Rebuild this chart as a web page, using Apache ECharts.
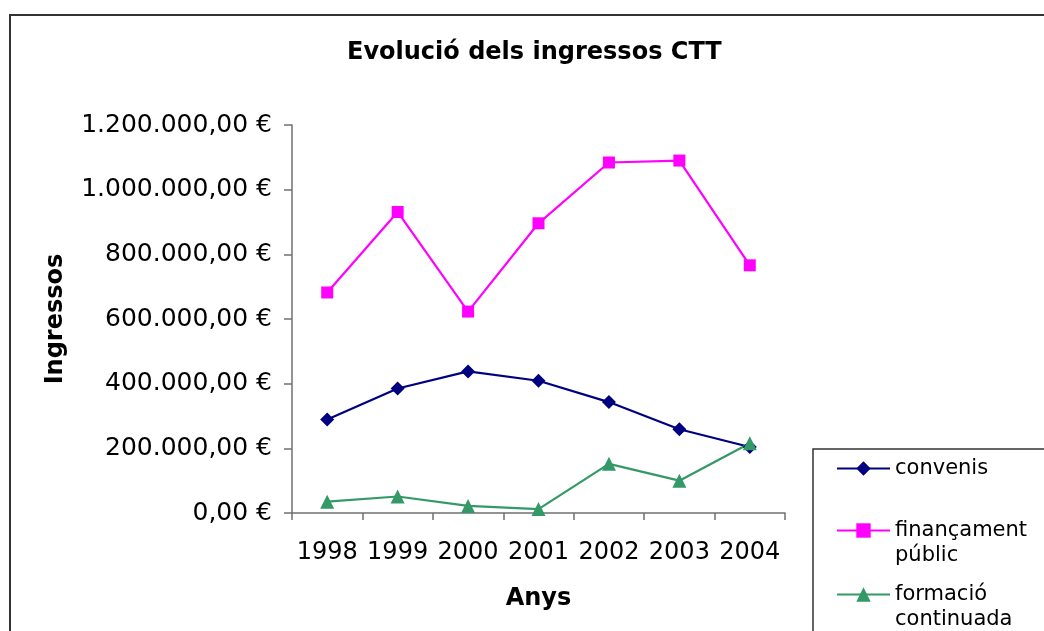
<!DOCTYPE html>
<html>
<head>
<meta charset="utf-8">
<script src="https://cdn.jsdelivr.net/npm/echarts@6/dist/echarts.min.js"></script>
<style>
  html, body { margin: 0; padding: 0; background: #fff; }
  #main { width: 1044px; height: 631px; }
</style>
</head>
<body>
<div id="main"></div>
<script>
var years = ['1998', '1999', '2000', '2001', '2002', '2003', '2004'];
var convenis = [289000, 385000, 438000, 409000, 343000, 259000, 204000];
var financament = [682000, 931000, 623000, 896000, 1084000, 1090000, 766000];
var formacio = [35000, 51000, 22000, 12000, 152000, 100000, 216000];

var FONT = '"DejaVu Sans", Verdana, sans-serif';

function euro(v) {
    var s = Math.round(v).toString().replace(/\B(?=(\d{3})+(?!\d))/g, '.');
    return s + ',00 €';
}

// one legend per series so each can sit where the reference puts it;
// two-line names get a blank first line so the symbol lines up with the first word
function legendFor(name, top, twoLines) {
    return {
        data: [name],
        orient: 'vertical',
        left: 831,
        top: top,
        itemWidth: 53,
        itemHeight: 18,
        formatter: function (n) { return twoLines ? '\n' + n.replace(' ', '\n') : n; },
        textStyle: {
            fontFamily: FONT,
            fontSize: 21,
            color: '#000',
            lineHeight: 25
        }
    };
}

var chartDom = document.getElementById('main');
var myChart = echarts.init(chartDom);
var option;
option = {
    animation: false,
    backgroundColor: '#fff',
    title: {
        text: 'Evolució dels ingressos CTT',
        left: 342,
        top: 36,
        textStyle: { fontFamily: FONT, fontSize: 24, fontWeight: 'bold', color: '#000' }
    },
    legend: [
        legendFor('convenis', 451, false),
        legendFor('finançament públic', 488, true),
        legendFor('formació continuada', 552, true)
    ],
    graphic: [
        {
            type: 'rect',
            shape: { x: 10, y: 15, width: 1100, height: 700 },
            style: { fill: null, stroke: '#333', lineWidth: 2 },
            silent: true
        },
        {
            type: 'rect',
            shape: { x: 813, y: 449, width: 300, height: 300 },
            style: { fill: '#fff', stroke: '#333', lineWidth: 1.5 },
            silent: true,
            z: -1
        }
    ],
    grid: {
        left: 292,
        right: 259,
        top: 125,
        bottom: 118
    },
    xAxis: {
        type: 'category',
        data: years,
        boundaryGap: true,
        name: 'Anys',
        nameLocation: 'middle',
        nameGap: 74,
        nameTextStyle: { fontFamily: FONT, fontSize: 24, fontWeight: 'bold', color: '#000' },
        axisLine: { lineStyle: { color: '#707070', width: 1.5 } },
        axisTick: { show: true, length: 7, alignWithLabel: false, lineStyle: { color: '#707070', width: 1.5 } },
        axisLabel: { fontFamily: FONT, fontSize: 24, color: '#000', margin: 28, interval: 0 },
        splitLine: { show: false }
    },
    yAxis: {
        type: 'value',
        min: 0,
        max: 1200000,
        interval: 200000,
        name: 'Ingressos',
        nameLocation: 'middle',
        nameGap: 224,
        nameRotate: 90,
        nameTextStyle: { fontFamily: FONT, fontSize: 24, fontWeight: 'bold', color: '#000' },
        axisLine: { show: true, lineStyle: { color: '#707070', width: 1.5 } },
        axisTick: { show: true, length: 8, lineStyle: { color: '#707070', width: 1.5 } },
        axisLabel: { fontFamily: FONT, fontSize: 25, color: '#000', margin: 20, formatter: euro },
        splitLine: { show: false }
    },
    series: [
        {
            name: 'convenis',
            type: 'line',
            data: convenis,
            symbol: 'diamond',
            symbolSize: 14,
            color: '#000080',
            lineStyle: { color: '#000080', width: 2.2 },
            itemStyle: { color: '#000080' }
        },
        {
            name: 'finançament públic',
            type: 'line',
            data: financament,
            symbol: 'rect',
            symbolSize: 12,
            color: '#ff00ff',
            lineStyle: { color: '#ff00ff', width: 2.2 },
            itemStyle: { color: '#ff00ff' }
        },
        {
            name: 'formació continuada',
            type: 'line',
            data: formacio,
            symbol: 'triangle',
            symbolSize: 14,
            color: '#339966',
            lineStyle: { color: '#339966', width: 2.2 },
            itemStyle: { color: '#339966' }
        }
    ]
};
option && myChart.setOption(option);
</script>
</body>
</html>
